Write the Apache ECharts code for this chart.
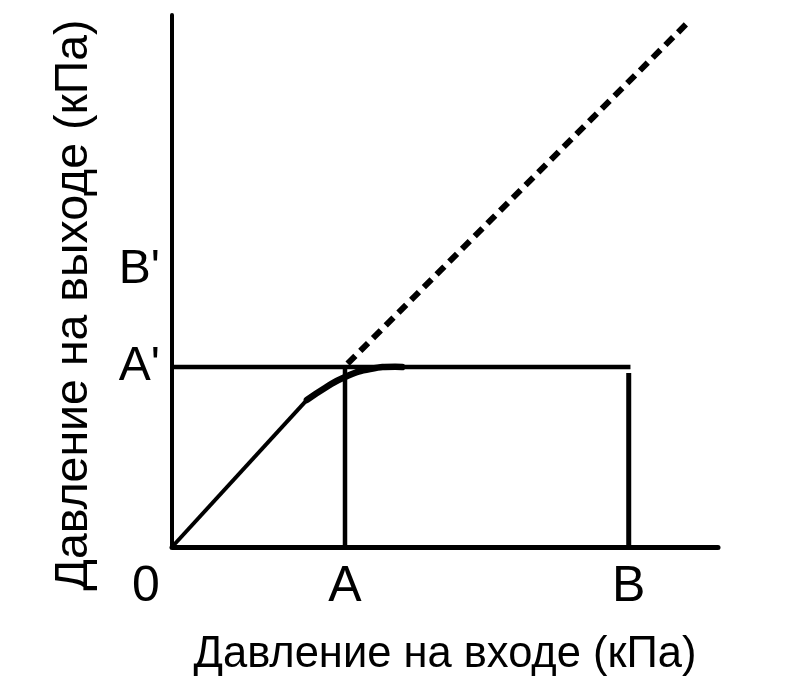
<!DOCTYPE html>
<html>
<head>
<meta charset="utf-8">
<script src="https://cdn.jsdelivr.net/npm/echarts@6/dist/echarts.min.js"></script>
<style>html,body{margin:0;padding:0;background:#fff;}#c{width:800px;height:679px;}</style>
</head>
<body>
<div id="c"></div>
<script>
// Axis marks (arbitrary pressure units)
const xTickValues = [0, 10, 26.4];
const xTickLabels = ['0', 'A', 'B'];
const yTickValues = [10.4, 16.0];
const yTickLabels = ["A'", "B'"];

// Characteristic: linear rise, then smooth knee to saturation at A'
const risePoints = [[0, 0], [7.8, 8.5]];
const kneePoints = [[7.8, 8.5], [8.84, 9.19], [10, 9.83], [11.45, 10.29], [12.9, 10.42], [13.3, 10.4]];
// Reference lines
const levelALine = [[0, 10.4], [26.5, 10.4]];
const verticalA = [[10, 0], [10, 10.4]];
const verticalB = [[26.4, 0], [26.4, 10.06]];
// Ideal (unregulated) continuation
const idealPoints = [[10.15, 10.6], [29.8, 30.3]];

const xLabelMap = {}; xTickValues.forEach((v, i) => xLabelMap[v] = xTickLabels[i]);
const yLabelMap = {}; yTickValues.forEach((v, i) => yLabelMap[v] = yTickLabels[i]);

const font = '"Liberation Sans", Arial, sans-serif';
const chart = echarts.init(document.getElementById('c'));
function seg(data, width, type) {
  return {
    type: 'line', data: data, symbol: 'none', smooth: false, animation: false,
    lineStyle: { color: '#000', width: width, type: type || 'solid', cap: 'butt' },
    silent: true
  };
}
const knee = seg(kneePoints, 6.5);
knee.smooth = 0.5;
knee.lineStyle.cap = 'round';
chart.setOption({
  animation: false,
  backgroundColor: '#fff',
  grid: { left: 172, right: 82, top: 15, bottom: 132, containLabel: false, outerBoundsMode: 'none' },
  xAxis: {
    type: 'value', min: 0, max: 31.56,
    name: 'Давление на входе (кПа)', nameLocation: 'middle', nameGap: 86,
    nameTextStyle: { fontFamily: font, fontSize: 43.5, color: '#000' },
    axisLine: { show: true, lineStyle: { color: '#000', width: 5 } },
    axisTick: { show: false },
    splitLine: { show: false },
    axisLabel: {
      customValues: xTickValues, margin: 15,
      fontFamily: font, fontSize: 50, color: '#000',
      formatter: function (v) { return v === 0 ? '{z|0}' : xLabelMap[v]; },
      rich: { z: { fontFamily: font, fontSize: 50, color: '#000', padding: [0, 52, 0, 0] } }
    }
  },
  yAxis: {
    type: 'value', min: 0, max: 30.75,
    name: 'Давление на выходе (кПа)', nameLocation: 'middle', nameGap: 74, nameRotate: 90,
    nameTextStyle: { fontFamily: font, fontSize: 46.5, color: '#000', padding: [0, 48, 0, 0] },
    axisLine: { show: true, lineStyle: { color: '#000', width: 4 } },
    axisTick: { show: false },
    splitLine: { show: false },
    axisLabel: {
      customValues: yTickValues, margin: 12, padding: [10, 0, 0, 0],
      fontFamily: font, fontSize: 48, color: '#000',
      formatter: function (v) { return yLabelMap[v]; }
    }
  },
  series: [
    seg(risePoints, 4),
    knee,
    seg(levelALine, 4.5),
    seg(verticalA, 4.5),
    seg(verticalB, 5),
    seg(idealPoints, 6, [11, 7])
  ]
});
</script>
</body>
</html>
